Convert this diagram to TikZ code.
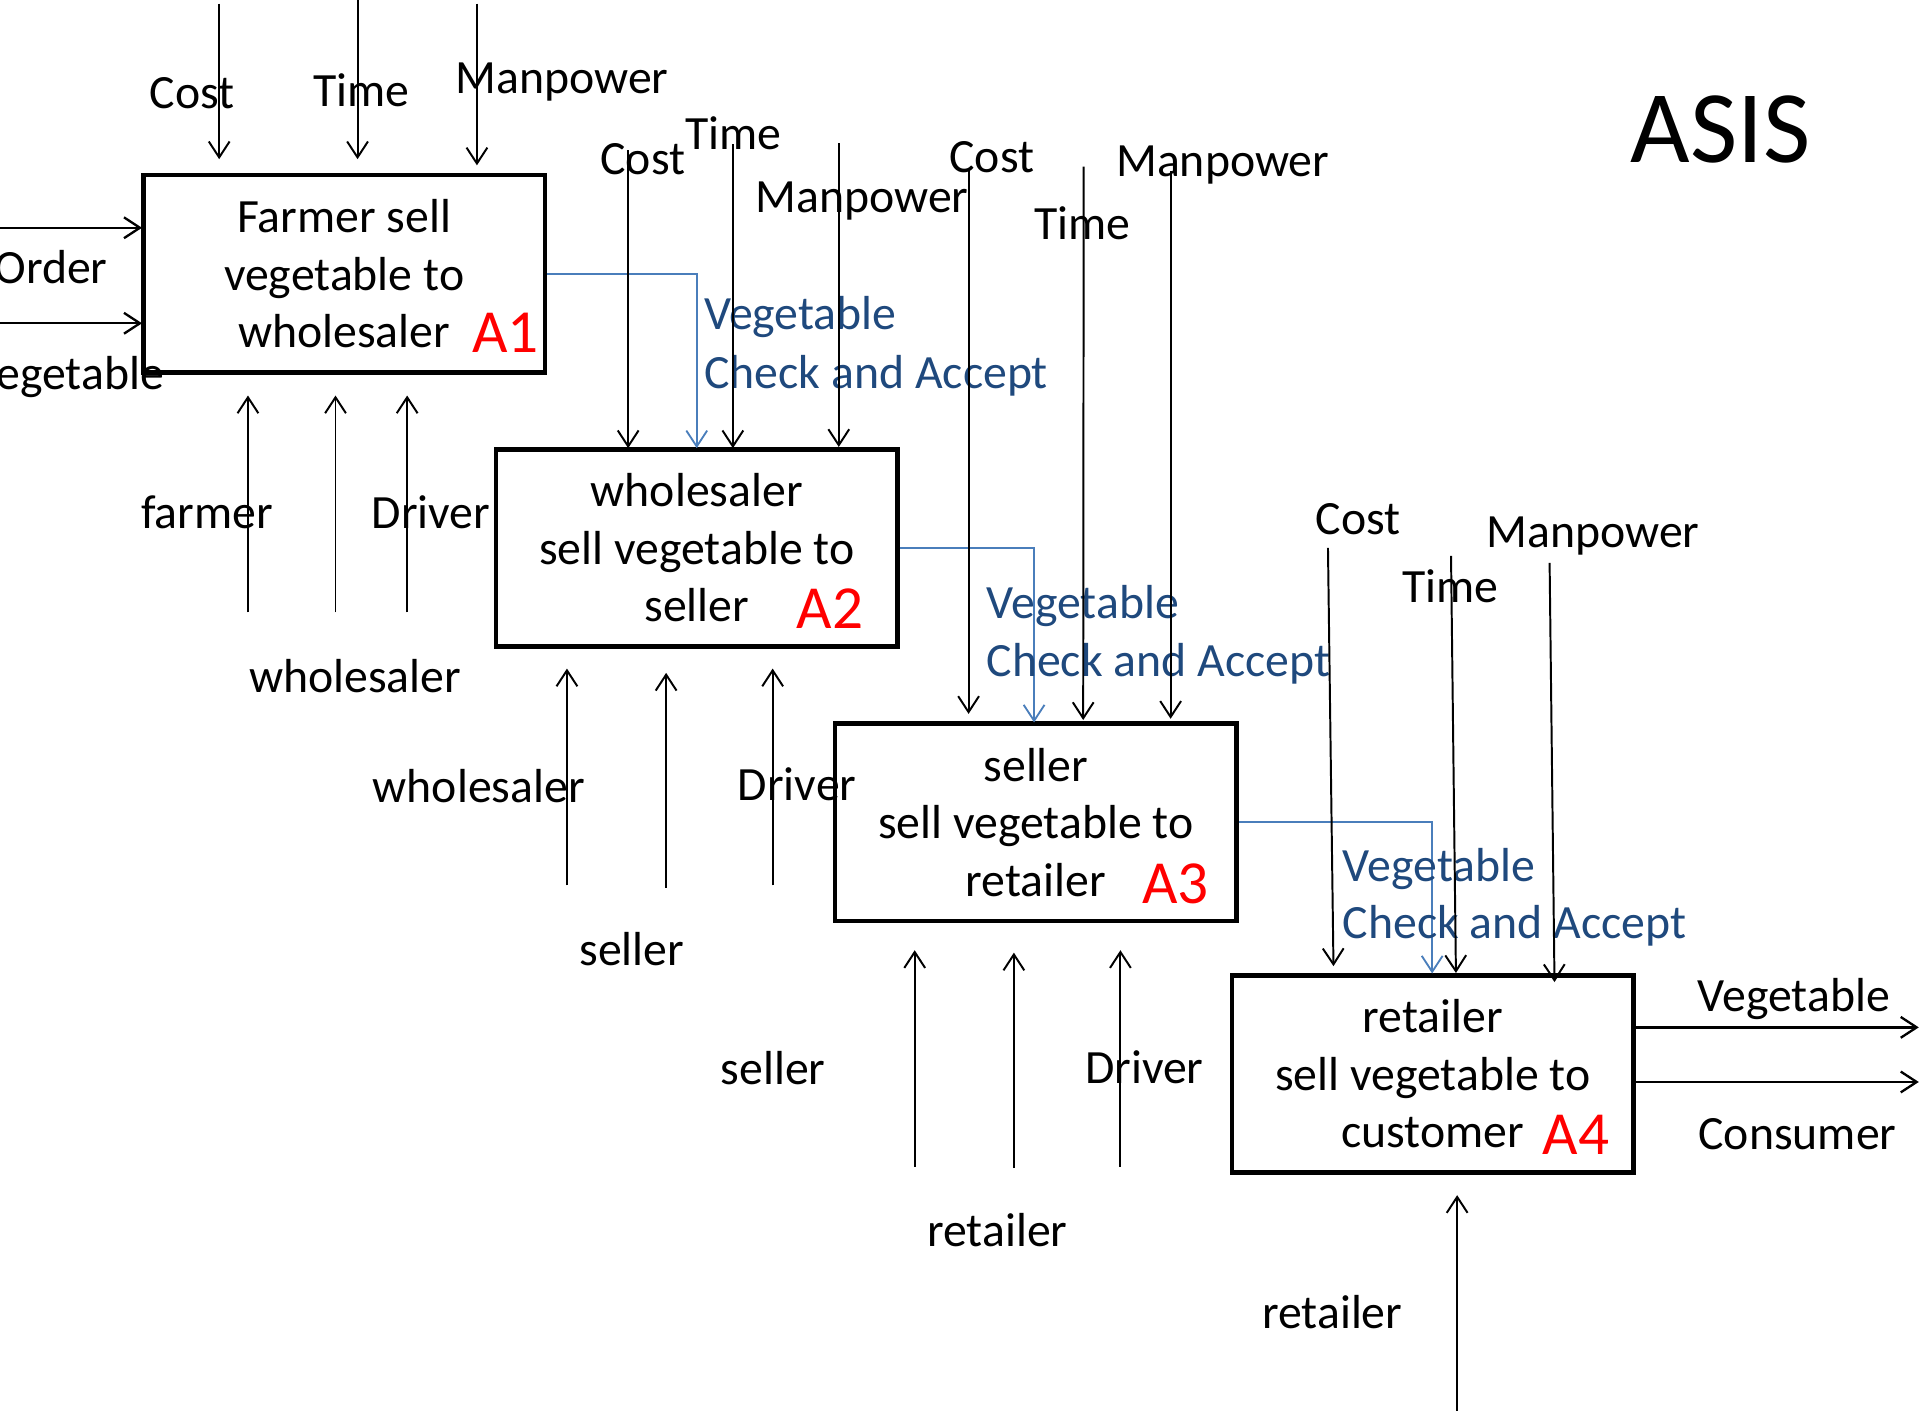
\documentclass[tikz,border=0pt]{standalone}
\usepackage{fontspec}
\setmainfont{Carlito}
\usetikzlibrary{arrows.meta}
\definecolor{flowline}{HTML}{4A7EBB}
\definecolor{flowtext}{HTML}{1F497D}
\definecolor{alabred}{HTML}{FF0000}
\tikzset{
  txt/.style={inner sep=0pt, font=\fontsize{39}{47}\selectfont},
  lab/.style={txt, anchor=base, yshift=-1.2pt},
  flab/.style={txt, anchor=base west, text=flowtext, yshift=-1.2pt},
  alab/.style={inner sep=0pt, anchor=base, text=alabred, font=\fontsize{50}{60}\selectfont},
  procbox/.style={draw, line width=3.8pt, minimum width=328pt, minimum height=161pt,
    inner sep=0pt, align=center, font=\fontsize{39}{47}\selectfont},
  arr/.style={line width=1.6pt, -{Straight Barb[length=13pt,width=17pt,line width=1.6pt]}},
  iarr/.style={line width=1.9pt, -{Straight Barb[length=13pt,width=17pt,line width=1.9pt]}},
  farr/.style={line width=1.5pt, draw=flowline, -{Straight Barb[length=13pt,width=17pt,line width=1.5pt]}},
}
\begin{document}
\begin{tikzpicture}[x=1pt,y=-1pt]
\useasboundingbox (0,0) rectangle (1568,1152);

% title
\node[inner sep=0pt, anchor=base, font=\fontsize{84}{100}\selectfont] (title) at (1405,133) {ASIS};

% boxes
\node[procbox] (a1) at (281,223.5) {Farmer sell\\vegetable to\\wholesaler};
\node[procbox] (a2) at (569,447.5) {wholesaler\\sell vegetable to\\seller};
\node[procbox] (a3) at (846,671.5) {seller\\sell vegetable to\\retailer};
\node[procbox] (a4) at (1170,877) {retailer\\sell vegetable to\\customer};

\node[alab] (n1) at (413,288) {A1};
\node[alab] (n2) at (678,513) {A2};
\node[alab] (n3) at (960,737.5) {A3};
\node[alab] (n4) at (1287,942.5) {A4};

% ---------- A1 ----------
\coordinate (c1a) at (179,3);   \coordinate (c1ae) at (179,130);
\coordinate (c1b) at (292,0);   \coordinate (c1be) at (292,130);
\coordinate (c1c) at (389.5,3); \coordinate (c1ce) at (389.5,135);
\draw[arr] (c1a) -- (c1ae);
\draw[arr] (c1b) -- (c1be);
\draw[arr] (c1c) -- (c1ce);
\node[lab] (l1a) at (157,87) {Cost};
\node[lab] (l1b) at (295,86) {Time};
\node[lab] (l1c) at (459,75) {Manpower};

\coordinate (i1a) at (0,186); \coordinate (i1ae) at (116,186);
\coordinate (i1b) at (0,264); \coordinate (i1be) at (116,264);
\draw[iarr] (i1a) -- (i1ae);
\draw[iarr] (i1b) -- (i1be);
\node[txt, anchor=base east, yshift=-1.2pt] (li1a) at (88,230) {Order};
\node[txt, anchor=base east, yshift=-1.2pt] (li1b) at (134,317) {Vegetable};

\coordinate (m1a) at (202.5,500); \coordinate (m1ae) at (202.5,323);
\coordinate (m1b) at (274,500);   \coordinate (m1be) at (274,323);
\coordinate (m1c) at (332.5,500); \coordinate (m1ce) at (332.5,323);
\draw[arr] (m1a) -- (m1ae);
\draw[arr] (m1b) -- (m1be);
\draw[arr] (m1c) -- (m1ce);
\node[lab] (lm1a) at (169,430) {farmer};
\node[lab] (lm1c) at (352,430) {Driver};
\node[lab] (lm1b) at (290,564) {wholesaler};

\coordinate (f1) at (569,366);
\draw[farr] (a1.east) -| (f1);
\node[flab] (lf1a) at (575,268) {Vegetable};
\node[flab] (lf1b) at (575,316) {Check and Accept};

% ---------- A2 ----------
\coordinate (c2a) at (513,122.5); \coordinate (c2ae) at (513,366);
\coordinate (c2b) at (598.5,118); \coordinate (c2be) at (598.5,366);
\coordinate (c2c) at (685,117);   \coordinate (c2ce) at (685,365);
\draw[arr] (c2a) -- (c2ae);
\draw[arr] (c2b) -- (c2be);
\draw[arr] (c2c) -- (c2ce);
\node[lab] (l2a) at (525,141.5) {Cost};
\node[lab] (l2b) at (599,121) {Time};
\node[lab] (l2c) at (704,172) {Manpower};

\coordinate (m2a) at (463,723); \coordinate (m2ae) at (463,546);
\coordinate (m2b) at (544,725); \coordinate (m2be) at (544,549.5);
\coordinate (m2c) at (631,723); \coordinate (m2ce) at (631,546);
\draw[arr] (m2a) -- (m2ae);
\draw[arr] (m2b) -- (m2be);
\draw[arr] (m2c) -- (m2ce);
\node[lab] (lm2a) at (391,654) {wholesaler};
\node[lab] (lm2c) at (651,652.5) {Driver};
\node[lab] (lm2b) at (516,787) {seller};

\coordinate (f2) at (844.5,590);
\draw[farr] (a2.east) -| (f2);
\node[flab] (lf2a) at (805.5,504) {Vegetable};
\node[flab] (lf2b) at (805.5,551) {Check and Accept};

% ---------- A3 ----------
\coordinate (c3a) at (791,137);   \coordinate (c3ae) at (791,583);
\coordinate (c3b) at (885,136);   \coordinate (c3be) at (884.6,588);
\coordinate (c3c) at (956,140);   \coordinate (c3ce) at (956,587);
\draw[arr] (c3a) -- (c3ae);
\draw[arr] (c3b) -- (c3be);
\draw[arr] (c3c) -- (c3ce);
\node[lab] (l3a) at (810,139.6) {Cost};
\node[lab] (l3b) at (884,194.7) {Time};
\node[lab] (l3c) at (998.6,143) {Manpower};

\coordinate (m3a) at (747,953); \coordinate (m3ae) at (747,776);
\coordinate (m3b) at (828,954); \coordinate (m3be) at (828,778);
\coordinate (m3c) at (915,953); \coordinate (m3ce) at (915,776);
\draw[arr] (m3a) -- (m3ae);
\draw[arr] (m3b) -- (m3be);
\draw[arr] (m3c) -- (m3ce);
\node[lab] (lm3a) at (631.5,884.6) {seller};
\node[lab] (lm3c) at (934.5,883.5) {Driver};
\node[lab] (lm3b) at (814.5,1017) {retailer};

\coordinate (f3) at (1169.6,795);
\draw[farr] (a3.east) -| (f3);
\node[flab] (lf3a) at (1096.5,718.6) {Vegetable};
\node[flab] (lf3b) at (1096.5,765) {Check and Accept};

% ---------- A4 ----------
\coordinate (c4a) at (1084.5,447.5); \coordinate (c4ae) at (1089,789);
\coordinate (c4b) at (1185,454);     \coordinate (c4be) at (1189,794.6);
\coordinate (c4c) at (1265.5,459.6); \coordinate (c4ce) at (1269.5,802);
\draw[arr] (c4a) -- (c4ae);
\draw[arr] (c4b) -- (c4be);
\draw[arr] (c4c) -- (c4ce);
\node[lab] (l4a) at (1109,435) {Cost};
\node[lab] (l4b) at (1184.5,491) {Time};
\node[lab] (l4c) at (1301,446) {Manpower};

\coordinate (m4a) at (1190,1152); \coordinate (m4ae) at (1190,976);
\draw[arr] (m4a) -- (m4ae);
\node[lab] (lm4a) at (1088,1084) {retailer};

\coordinate (o4a) at (1334,839);   \coordinate (o4ae) at (1567,839);
\coordinate (o4b) at (1334,883.6); \coordinate (o4be) at (1567,883.6);
\draw[iarr] (o4a) -- (o4ae);
\draw[iarr] (o4b) -- (o4be);
\node[lab] (lo4a) at (1465,825) {Vegetable};
\node[lab] (lo4b) at (1468,937.7) {Consumer};
\end{tikzpicture}
\end{document}
